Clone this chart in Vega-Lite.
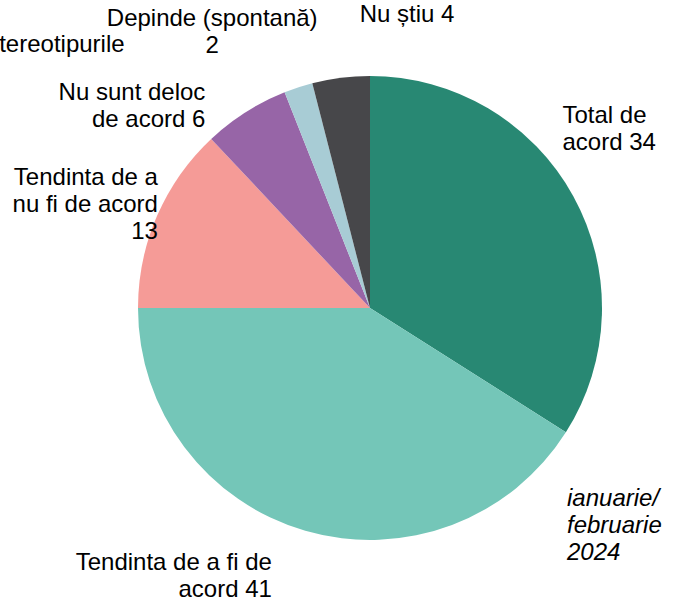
{
  "$schema": "https://vega.github.io/schema/vega-lite/v6.json",
  "width": 596,
  "height": 560,
  "autosize": {"type": "none"},
  "padding": {"left": 72, "top": 28, "right": 9, "bottom": 14},
  "background": "white",
  "title": {
    "text": ["ianuarie/", "februarie", "2024"],
    "orient": "bottom",
    "anchor": "end",
    "frame": "group",
    "align": "left",
    "dx": -101,
    "offset": -115,
    "font": "Liberation Sans",
    "fontStyle": "italic",
    "fontWeight": "normal",
    "fontSize": 24,
    "lineHeight": 27,
    "color": "black"
  },
  "data": {
    "values": [
      {"cat": "Total de acord", "value": 34, "order": 1, "lbl": "Total de\nacord 34"},
      {"cat": "Tendinta de a fi de acord", "value": 41, "order": 2, "lbl": "Tendinta de a fi de\nacord 41"},
      {"cat": "Tendinta de a nu fi de acord", "value": 13, "order": 3, "lbl": "Tendinta de a\nnu fi de acord\n13"},
      {"cat": "Nu sunt deloc de acord", "value": 6, "order": 4, "lbl": "Nu sunt deloc\nde acord 6"},
      {"cat": "Depinde (spontană)", "value": 2, "order": 5, "lbl": "Depinde (spontană)\n2"},
      {"cat": "Nu știu", "value": 4, "order": 6, "lbl": "Nu știu 4"}
    ]
  },
  "encoding": {
    "theta": {"field": "value", "type": "quantitative", "stack": true},
    "order": {"field": "order", "type": "quantitative"}
  },
  "layer": [
    {
      "mark": {"type": "arc", "outerRadius": 232},
      "encoding": {
        "color": {
          "field": "cat",
          "type": "nominal",
          "scale": {
            "domain": ["Total de acord", "Tendinta de a fi de acord", "Tendinta de a nu fi de acord", "Nu sunt deloc de acord", "Depinde (spontană)", "Nu știu"],
            "range": ["#288873", "#74C6B8", "#F59B97", "#9765A7", "#A8CCD5", "#47474A"]
          },
          "legend": null
        }
      }
    },
    {
      "mark": {"type": "text", "radius": 255, "align": "left", "baseline": "middle", "dx": -31, "dy": -69},
      "encoding": {"text": {"condition": {"test": "datum.cat === 'Total de acord'", "field": "lbl"}, "value": ""}}
    },
    {
      "mark": {"type": "text", "radius": 255, "align": "right", "baseline": "middle", "dx": -27, "dy": 10},
      "encoding": {"text": {"condition": {"test": "datum.cat === 'Tendinta de a fi de acord'", "field": "lbl"}, "value": ""}}
    },
    {
      "mark": {"type": "text", "radius": 255, "align": "right", "baseline": "middle", "dx": 22, "dy": -29},
      "encoding": {"text": {"condition": {"test": "datum.cat === 'Tendinta de a nu fi de acord'", "field": "lbl"}, "value": ""}}
    },
    {
      "mark": {"type": "text", "radius": 255, "align": "right", "baseline": "middle", "dx": -28, "dy": 0},
      "encoding": {"text": {"condition": {"test": "datum.cat === 'Nu sunt deloc de acord'", "field": "lbl"}, "value": ""}}
    },
    {
      "mark": {"type": "text", "radius": 255, "align": "center", "baseline": "middle", "dx": -79, "dy": -46},
      "encoding": {"text": {"condition": {"test": "datum.cat === 'Depinde (spontană)'", "field": "lbl"}, "value": ""}}
    },
    {
      "mark": {"type": "text", "radius": 255, "align": "center", "baseline": "middle", "dx": 69, "dy": -40},
      "encoding": {"text": {"condition": {"test": "datum.cat === 'Nu știu'", "field": "lbl"}, "value": ""}}
    },
    {
      "mark": {"type": "text", "radius": 255, "align": "left", "baseline": "middle", "dx": -292, "dy": -20},
      "encoding": {"text": {"condition": {"test": "datum.cat === 'Depinde (spontană)'", "value": "tereotipurile"}, "value": ""}}
    }
  ],
  "config": {
    "view": {"stroke": null},
    "text": {"font": "Liberation Sans", "fontSize": 24, "lineHeight": 27, "lineBreak": "\n", "color": "black"}
  }
}
